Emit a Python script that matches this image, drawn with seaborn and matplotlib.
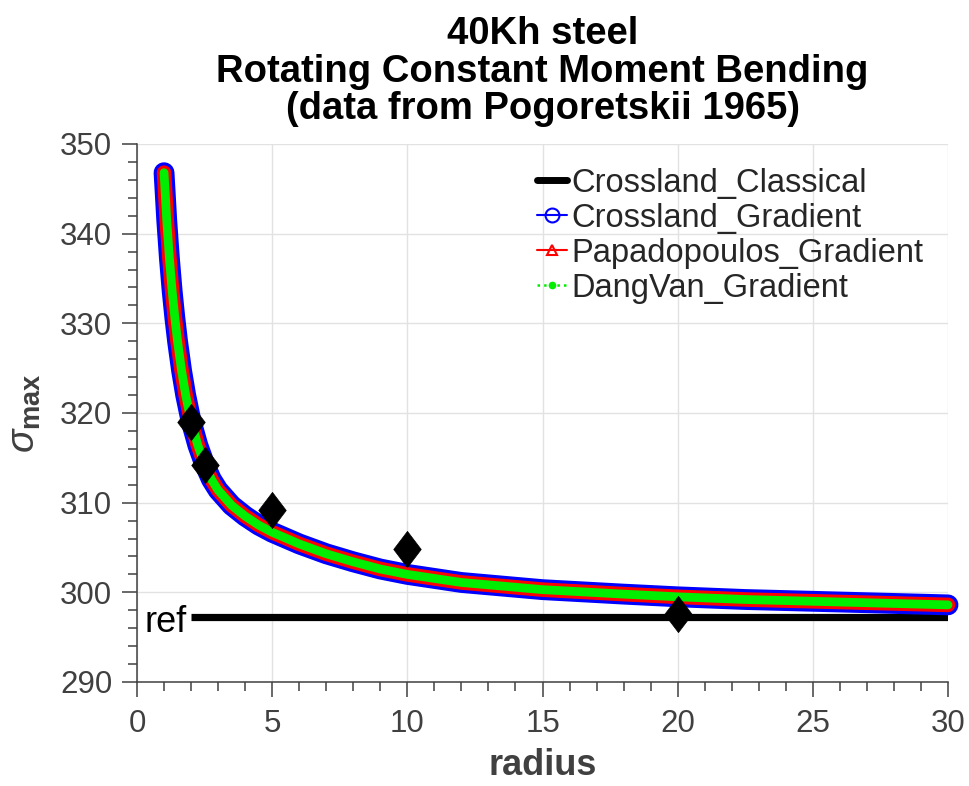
import matplotlib
matplotlib.use("Agg")
import matplotlib.pyplot as plt
import seaborn as sns
import numpy as np
import pandas as pd
from matplotlib.lines import Line2D
from matplotlib.path import Path
from matplotlib.ticker import MultipleLocator

# ---------------- data ----------------
radius = [1.0, 1.1, 1.2, 1.3, 1.4, 1.5, 1.65, 1.8, 2.0, 2.25, 2.5, 2.75, 3.0, 3.5,
          4.0, 4.5, 5.0, 6.0, 7.0, 8.0, 9.0, 10.0, 12.0, 15.0, 18.0, 20.0, 22.5,
          25.0, 27.5, 30.0]
crossland_gradient = [346.8, 341.5, 337.2, 333.6, 330.6, 328.0, 324.7, 322.0, 319.1,
                      316.4, 314.3, 312.6, 311.4, 309.7, 308.5, 307.5, 306.7, 305.4,
                      304.3, 303.4, 302.6, 302.0, 301.1, 300.3, 299.8, 299.5, 299.2,
                      299.0, 298.8, 298.6]
papadopoulos_gradient = [346.8, 341.5, 337.2, 333.6, 330.6, 328.0, 324.7, 322.0, 319.1,
                         316.4, 314.3, 312.6, 311.4, 309.7, 308.5, 307.5, 306.7, 305.4,
                         304.3, 303.4, 302.6, 302.0, 301.1, 300.3, 299.8, 299.5, 299.2,
                         299.0, 298.8, 298.6]
dangvan_gradient = [346.8, 341.5, 337.2, 333.6, 330.6, 328.0, 324.7, 322.0, 319.1,
                    316.4, 314.3, 312.6, 311.4, 309.7, 308.5, 307.5, 306.7, 305.4,
                    304.3, 303.4, 302.6, 302.0, 301.1, 300.3, 299.8, 299.5, 299.2,
                    299.0, 298.8, 298.6]

exp_radius = [2.0, 2.5, 5.0, 10.0, 20.0]
exp_sigma = [319.0, 314.2, 309.2, 304.85, 297.6]

ref_radius = [2.0, 30.0]
ref_sigma = [297.2, 297.2]

legend_labels = ["Crossland_Classical", "Crossland_Gradient",
                 "Papadopoulos_Gradient", "DangVan_Gradient"]
title_lines = ["40Kh steel", "Rotating Constant Moment Bending",
               "(data from Pogoretskii 1965)"]

# ---------------- style ----------------
sns.set_style("ticks")
plt.rcParams["font.family"] = ["Liberation Sans", "DejaVu Sans"]
plt.rcParams["mathtext.fontset"] = "custom"
plt.rcParams["mathtext.rm"] = "Liberation Sans"
plt.rcParams["mathtext.it"] = "Liberation Sans:italic"
plt.rcParams["mathtext.bf"] = "Liberation Sans:bold"

GREY = "#404040"
BLUE = "#0000ff"
RED = "#ff0000"
GREEN = "#00ee00"

fig = plt.figure(figsize=(9.7, 7.86), dpi=100)
ax = fig.add_axes([0.14124, 0.13232, 0.83608, 0.68448])

ax.set_xlim(0, 30)
ax.set_ylim(290, 350)
ax.xaxis.set_major_locator(MultipleLocator(5))
ax.xaxis.set_minor_locator(MultipleLocator(1))
ax.yaxis.set_major_locator(MultipleLocator(10))
ax.yaxis.set_minor_locator(MultipleLocator(2))
ax.grid(True, which="major", color="#e2e2e2", lw=1.0, zorder=0)
ax.set_axisbelow(True)

# reference line
sns.lineplot(x=ref_radius, y=ref_sigma, color="black", lw=5.2, ax=ax,
             estimator=None, sort=False, zorder=2, solid_capstyle="butt")
ax.text(1.85, 295.6, "ref", ha="right", va="baseline", fontsize=26, color="black")

# model curves (thick bands)
df = pd.DataFrame({"radius": radius, "cg": crossland_gradient,
                   "pg": papadopoulos_gradient, "dv": dangvan_gradient})
for col, colr, lw, z in [("cg", BLUE, 15.0, 3), ("pg", RED, 10.5, 4), ("dv", GREEN, 6.3, 5)]:
    sns.lineplot(data=df, x="radius", y=col, color=colr, lw=lw, ax=ax,
                 estimator=None, sort=False, zorder=z, clip_on=False,
                 solid_capstyle="round", solid_joinstyle="round")

# experimental points (tall diamonds)
diamond = Path([(0, 1), (0.76, 0), (0, -1), (-0.76, 0), (0, 1)],
               [Path.MOVETO, Path.LINETO, Path.LINETO, Path.LINETO, Path.CLOSEPOLY])
sns.scatterplot(x=exp_radius, y=exp_sigma, marker=diamond, s=680, color="black",
                edgecolor="black", linewidth=0.5, ax=ax, zorder=6, clip_on=False)

# axes styling
for side in ["top", "right"]:
    ax.spines[side].set_visible(False)
for side in ["left", "bottom"]:
    ax.spines[side].set_color(GREY)
    ax.spines[side].set_linewidth(1.1)
ax.tick_params(which="major", length=10.8, width=1.1, color=GREY, labelsize=22.5,
               labelcolor=GREY, direction="out")
ax.tick_params(which="minor", length=6.5, width=1.1, color=GREY, direction="out")
ax.tick_params(axis="x", which="major", pad=9)
ax.tick_params(axis="y", which="major", pad=7)

ax.set_xlabel("radius", fontsize=26, fontweight="bold", color=GREY, labelpad=6)
ax.set_ylabel(r"$\mathit{\sigma}_{\mathbf{max}}$", fontsize=28, color=GREY, labelpad=12)
ax.set_title("\n".join(title_lines), fontsize=27.5, fontweight="bold",
             linespacing=1.05, pad=18, color="black")

handles = [
    Line2D([], [], color="black", lw=5),
    Line2D([], [], color=BLUE, lw=1.5, marker="o", mfc="none", mec=BLUE, ms=10, mew=1.5),
    Line2D([], [], color=RED, lw=1.5, marker="^", mfc="none", mec=RED, ms=7, mew=1.5),
    Line2D([], [], color=GREEN, lw=1.8, ls=":", marker=".", mfc=GREEN, mec=GREEN, ms=9),
]
ax.legend(handles, legend_labels, loc="upper left", bbox_to_anchor=(0.493, 0.956),
          frameon=False, fontsize=23.5, handlelength=0.92, handletextpad=0.15,
          borderaxespad=0, borderpad=0, labelspacing=0.125, numpoints=1)

fig.savefig("out.png", dpi=100)
